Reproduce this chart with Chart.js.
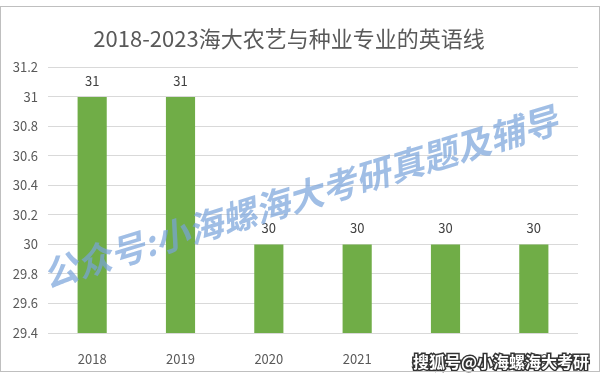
<!DOCTYPE html>
<html>
<head>
<meta charset="utf-8">
<script src="https://cdn.jsdelivr.net/npm/chart.js@4/dist/chart.umd.min.js"></script>
<style>
  html, body { margin: 0; padding: 0; background: #fff; }
  #wrap { width: 600px; height: 378px; position: relative; }
</style>
</head>
<body>
<div id="wrap"><canvas id="grafico"></canvas></div>
<script>
const anos = ['2018', '2019', '2020', '2021', '2022', '2023'];
const notas = [31, 31, 30, 30, 30, 30];
const titulo = '2018-2023海大农艺与种业专业的英语线';
const marcaAgua = '公众号:小海螺海大考研真题及辅导';
const marcaSohu = '搜狐号@小海螺海大考研';

const fonte = '"Noto Sans CJK SC", "Noto Sans", sans-serif';

// rotulos em cima das barras
const rotulos = {
  id: 'rotulos',
  afterDatasetsDraw(chart) {
    const ctx = chart.ctx;
    const meta = chart.getDatasetMeta(0);
    ctx.save();
    ctx.font = '13px ' + fonte;
    ctx.fillStyle = '#404040';
    ctx.textAlign = 'center';
    ctx.textBaseline = 'middle';
    meta.data.forEach((bar, i) => {
      ctx.fillText(String(notas[i]), bar.x, bar.y - 16);
    });
    ctx.restore();
  }
};

// marcas d'agua
const marcas = {
  id: 'marcas',
  afterDraw(chart) {
    const ctx = chart.ctx;
    ctx.save();
    ctx.translate(300, 197);
    ctx.rotate(-17 * Math.PI / 180);
    ctx.font = 'italic bold 35px ' + fonte;
    ctx.fillStyle = 'rgba(120, 162, 218, 0.7)';
    ctx.textAlign = 'center';
    ctx.textBaseline = 'middle';
    ctx.fillText(marcaAgua, 0, 0);
    ctx.restore();

    ctx.save();
    ctx.font = 'bold 16px ' + fonte;
    ctx.textAlign = 'right';
    ctx.textBaseline = 'middle';
    ctx.lineWidth = 3;
    ctx.strokeStyle = '#333';
    ctx.strokeText(marcaSohu, 589, 362);
    ctx.fillStyle = '#fff';
    ctx.fillText(marcaSohu, 589, 362);
    ctx.restore();

    ctx.save();
    ctx.strokeStyle = '#bfbfbf';
    ctx.lineWidth = 1;
    ctx.strokeRect(0.5, 6.5, 599, 365);
    ctx.restore();
  }
};

new Chart(document.getElementById('grafico'), {
  type: 'bar',
  data: {
    labels: anos,
    datasets: [{
      data: notas,
      backgroundColor: '#70AD47',
      barPercentage: 0.33,
      categoryPercentage: 1
    }]
  },
  options: {
    responsive: true,
    maintainAspectRatio: false,
    animation: false,
    layout: { padding: { left: 0, right: 22, top: 0, bottom: 0 } },
    plugins: {
      legend: { display: false },
      tooltip: { enabled: false },
      title: {
        display: true,
        text: titulo,
        color: '#595959',
        font: { family: fonte, size: 22, weight: 'normal' },
        padding: { top: 25, bottom: 16 }
      }
    },
    scales: {
      x: {
        grid: { display: false },
        border: { display: false },
        ticks: { color: '#595959', font: { family: fonte, size: 13 }, padding: 10 },
        afterFit(scale) { scale.height = 45; }
      },
      y: {
        min: 29.4,
        max: 31.2,
        grid: { color: '#d9d9d9', drawTicks: false },
        border: { display: false },
        ticks: {
          stepSize: 0.2,
          color: '#595959',
          font: { family: fonte, size: 13 },
          padding: 10,
          callback: v => String(Number(v.toFixed(1)))
        },
        afterFit(scale) { scale.width = 48; }
      }
    }
  },
  plugins: [rotulos, marcas]
});
</script>
</body>
</html>
